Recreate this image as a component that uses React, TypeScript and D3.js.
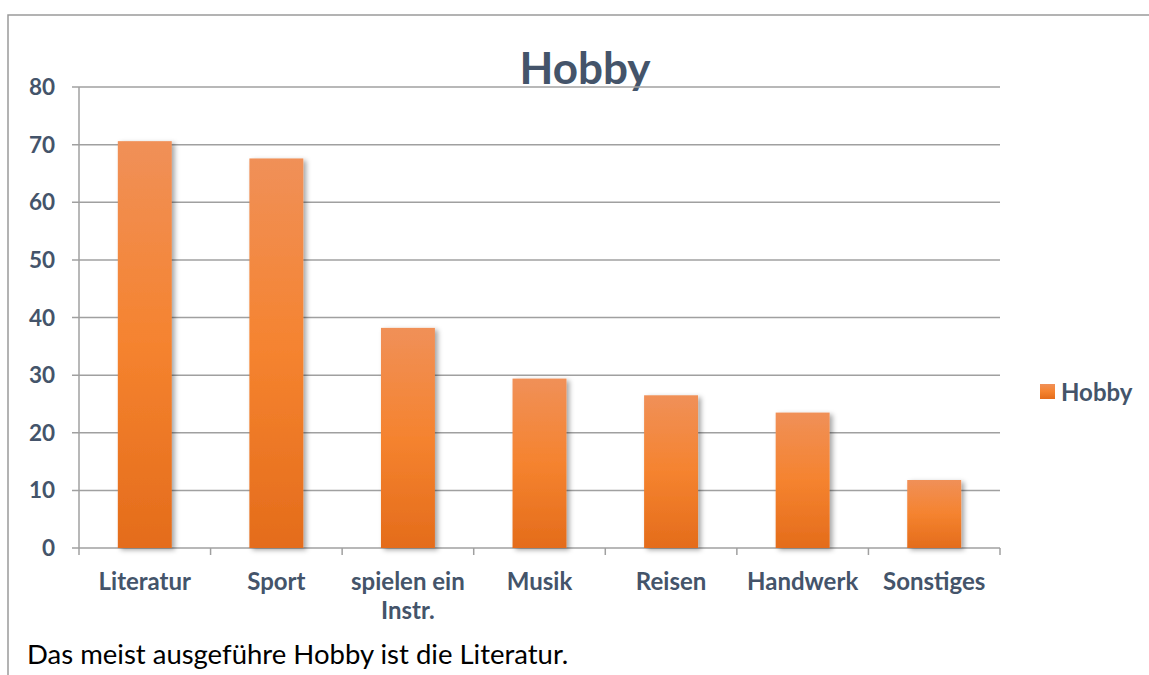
import React from "react";
import * as d3 from "d3";

const categories = ["Literatur", "Sport", "spielen ein Instr.", "Musik", "Reisen", "Handwerk", "Sonstiges"];
const labelLines = [["Literatur"], ["Sport"], ["spielen ein", "Instr."], ["Musik"], ["Reisen"], ["Handwerk"], ["Sonstiges"]];
const values = [70.6, 67.6, 38.2, 29.4, 26.5, 23.5, 11.8];
const yTicks = [0, 10, 20, 30, 40, 50, 60, 70, 80];
const seriesName = "Hobby";

const W = 1149;
const H = 675;
const font = "Lato, 'Open Sans', sans-serif";
const textColor = "#44546A";

export default function App() {
  const plot = { left: 79, right: 1000, top: 87, bottom: 548 };

  const x = d3.scaleBand().domain(categories).range([plot.left, plot.right]).padding(0);
  const y = d3.scaleLinear().domain([0, 80]).range([plot.bottom, plot.top]);
  const barW = x.bandwidth() * 0.41;

  return (
    <svg width={W} height={H} style={{ position: "absolute", left: 0, top: 0 }}>
      <defs>
        <linearGradient id="barGrad" x1="0" y1="0" x2="0" y2="1">
          <stop offset="0%" stopColor="#F09058" />
          <stop offset="50%" stopColor="#F5832F" />
          <stop offset="100%" stopColor="#E46C1B" />
        </linearGradient>
        <filter id="shadow" x="-20%" y="-10%" width="150%" height="120%">
          <feDropShadow dx="3" dy="2" stdDeviation="2.5" floodColor="#000" floodOpacity="0.35" />
        </filter>
      </defs>
      <rect x={0} y={0} width={W} height={H} fill="#fff" />
      {/* chart border, runs off the right and bottom */}
      <path d={`M8,${H + 5} V15 H${W + 5}`} fill="none" stroke="#9a9a9a" strokeWidth={1.5} />

      <text x={585} y={84} textAnchor="middle" fontFamily={font} fontWeight="bold" fontSize={44} fill={textColor}>
        Hobby
      </text>

      {/* gridlines + y ticks */}
      {yTicks.map((t) => (
        <g key={t}>
          <line x1={plot.left - 7} x2={plot.right} y1={y(t)} y2={y(t)} stroke="#A0A0A0" strokeWidth={1.5} />
          <text x={55} y={y(t) + 8} textAnchor="end" fontFamily={font} fontWeight="bold" fontSize={22.5} fill={textColor}>
            {t}
          </text>
        </g>
      ))}
      <line x1={plot.left} x2={plot.left} y1={plot.top} y2={plot.bottom} stroke="#A0A0A0" strokeWidth={1.5} />

      {/* x ticks */}
      {[...categories.map((c) => x(c) as number), plot.right].map((xx, i) => (
        <line key={i} x1={xx} x2={xx} y1={plot.bottom} y2={plot.bottom + 7} stroke="#A0A0A0" strokeWidth={1.5} />
      ))}

      {/* bars */}
      {categories.map((c, i) => (
        <rect
          key={c}
          x={(x(c) as number) + x.bandwidth() / 2 - barW / 2}
          y={y(values[i])}
          width={barW}
          height={y(0) - y(values[i])}
          fill="url(#barGrad)"
          filter="url(#shadow)"
        />
      ))}

      {/* category labels */}
      {categories.map((c, i) => (
        <text key={c} textAnchor="middle" fontFamily={font} fontWeight="bold" fontSize={24} fill={textColor}>
          {labelLines[i].map((ln, j) => (
            <tspan key={j} x={(x(c) as number) + x.bandwidth() / 2} y={590 + j * 29}>
              {ln}
            </tspan>
          ))}
        </text>
      ))}

      {/* legend */}
      <rect x={1040} y={384} width={15} height={15} fill="url(#barGrad)" />
      <text x={1061} y={401} fontFamily={font} fontWeight="bold" fontSize={24} fill={textColor}>
        {seriesName}
      </text>

      <text x={27} y={664} fontFamily={font} fontSize={27.5} fill="#000">
        Das meist ausgeführe Hobby ist die Literatur.
      </text>
    </svg>
  );
}
